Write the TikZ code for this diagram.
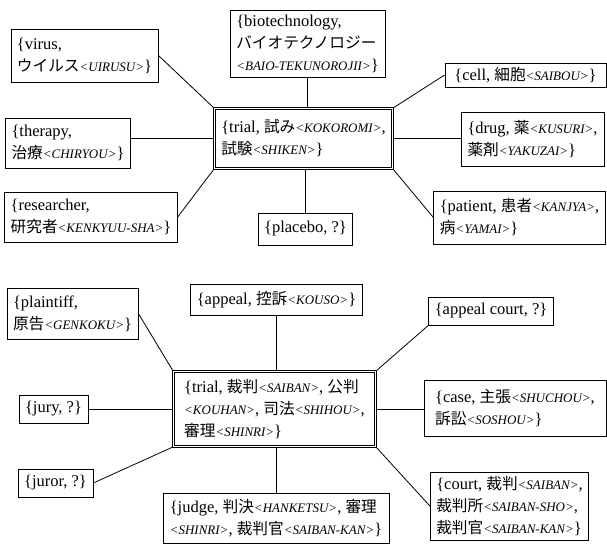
\documentclass[tikz,border=0pt]{standalone}
\usepackage{fontspec}
\setmainfont{Liberation Serif}
\newfontfamily\jpfont{Noto Sans CJK JP}[Scale=0.95]
\usepackage{tikz}
\usetikzlibrary{positioning}

\newcommand\ja[1]{{\jpfont #1}}
\newcommand\rj[1]{{\fontsize{13}{13}\selectfont\itshape\textless#1\textgreater}}

\begin{document}
\begin{tikzpicture}[
    x=1pt, y=-1pt,
    sat/.style={
        rectangle, draw, line width=0.8pt, align=left,
        inner xsep=6pt, inner ysep=2pt,
        font=\fontsize{16.5}{22}\selectfont
    },
    hub/.style={
        sat, double, double distance=1.8pt, line width=0.7pt
    },
    link/.style={line width=0.8pt}
]
    \useasboundingbox (0,0) rectangle (607,545);

    % first cluster
    \node[hub, minimum width=178pt, minimum height=60pt] (trialA) at (303.5,138.5)
        {\{trial, \ja{試み}\rj{KOKOROMI},\\ \ja{試験}\rj{SHIKEN}\}};
    \node[sat, minimum width=155pt, minimum height=67pt] (bio) at (307.5,43.5)
        {\{biotechnology,\\ \ja{バイオテクノロジー}\\ \rj{BAIO-TEKUNOROJII}\}};
    \node[sat, minimum width=139pt, minimum height=53pt] (vir) at (84.5,55.5)
        {\{virus,\\ \ja{ウイルス}\rj{UIRUSU}\}};
    \node[sat, minimum width=122pt, minimum height=50pt] (ther) at (68,143)
        {\{therapy,\\ \ja{治療}\rj{CHIRYOU}\}};
    \node[sat, minimum width=170pt, minimum height=50pt] (res) at (91,217)
        {\{researcher,\\ \ja{研究者}\rj{KENKYUU-SHA}\}};
    \node[sat, minimum width=93pt, minimum height=32pt] (plac) at (305.5,229)
        {\{placebo, ?\}};
    \node[sat, minimum width=161pt, minimum height=24pt] (cell) at (525.5,75)
        {\{cell, \ja{細胞}\rj{SAIBOU}\}};
    \node[sat, minimum width=143pt, minimum height=54pt] (drug) at (532.5,139)
        {\{drug, \ja{薬}\rj{KUSURI},\\ \ja{薬剤}\rj{YAKUZAI}\}};
    \node[sat, minimum width=171pt, minimum height=53pt] (pat) at (519.5,217.5)
        {\{patient, \ja{患者}\rj{KANJYA},\\ \ja{病}\rj{YAMAI}\}};

    \draw[link] (vir.east) -- (trialA.north west);
    \draw[link] (trialA.west) -- (trialA.west -| ther.east);
    \draw[link] (res.east) -- (trialA.south west);
    \draw[link] (bio.south) -- (bio.south |- trialA.north);
    \draw[link] (plac.north) -- (plac.north |- trialA.south);
    \draw[link] (trialA.north east) -- (cell.west);
    \draw[link] (trialA.east) -- (trialA.east -| drug.west);
    \draw[link] (trialA.south east) -- (pat.west);

    % second cluster
    \node[hub, minimum width=202pt, minimum height=75pt] (trialB) at (274.5,409)
        {\{trial, \ja{裁判}\rj{SAIBAN}, \ja{公判}\\ \rj{KOUHAN}, \ja{司法}\rj{SHIHOU},\\ \ja{審理}\rj{SHINRI}\}};
    \node[sat, minimum width=131pt, minimum height=51pt] (pla) at (72.5,313.5)
        {\{plaintiff,\\ \ja{原告}\rj{GENKOKU}\}};
    \node[sat, minimum width=171pt, minimum height=31pt] (app) at (276.5,299.5)
        {\{appeal, \ja{控訴}\rj{KOUSO}\}};
    \node[sat, minimum width=116pt, minimum height=28pt] (apc) at (491,311)
        {\{appeal court, ?\}};
    \node[sat, minimum width=63pt, minimum height=28pt] (jury) at (53.5,409)
        {\{jury, ?\}};
    \node[sat, minimum width=182pt, minimum height=56pt] (case) at (515,408)
        {\{case, \ja{主張}\rj{SHUCHOU},\\ \ja{訴訟}\rj{SOSHOU}\}};
    \node[sat, minimum width=69pt, minimum height=28pt] (juror) at (55.5,483)
        {\{juror, ?\}};
    \node[sat, minimum width=226pt, minimum height=50pt] (judge) at (276,518)
        {\{judge, \ja{判決}\rj{HANKETSU}, \ja{審理}\\ \rj{SHINRI}, \ja{裁判官}\rj{SAIBAN-KAN}\}};
    \node[sat, minimum width=155pt, minimum height=68pt] (court) at (509.5,506)
        {\{court, \ja{裁判}\rj{SAIBAN},\\ \ja{裁判所}\rj{SAIBAN-SHO},\\ \ja{裁判官}\rj{SAIBAN-KAN}\}};

    \draw[link] (pla.east) -- (trialB.north west);
    \draw[link] (app.south) -- (app.south |- trialB.north);
    \draw[link] (jury.east) -- (jury.east -| trialB.west);
    \draw[link] (juror.east) -- (trialB.south west);
    \draw[link] (judge.north) -- (judge.north |- trialB.south);
    \draw[link] (trialB.north east) -- (apc.south west);
    \draw[link] (trialB.east) -- (trialB.east -| case.west);
    \draw[link] (trialB.south east) -- (court.west);
\end{tikzpicture}
\end{document}
